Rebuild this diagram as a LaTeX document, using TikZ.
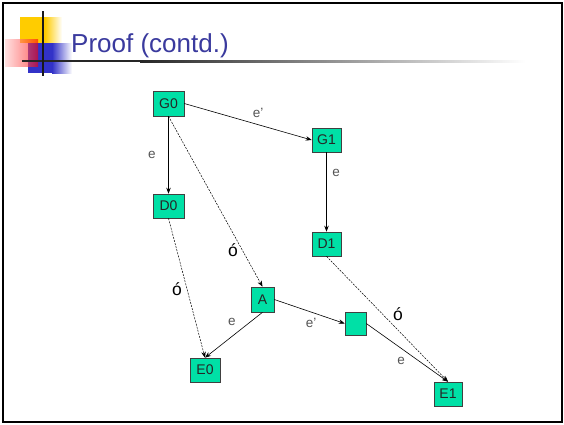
\documentclass[tikz,border=0pt]{standalone}
\usepackage{fontspec}
\setmainfont{Liberation Sans}
\usetikzlibrary{arrows.meta}
\definecolor{turq}{RGB}{0,224,166}
\definecolor{titleblue}{RGB}{58,58,158}
\definecolor{lblgray}{RGB}{85,85,85}
\definecolor{decoblue}{RGB}{50,50,200}
\definecolor{decoyellow}{RGB}{255,204,0}
\begin{document}
\begin{tikzpicture}[x=1pt,y=-1pt,
  box/.style={draw=black!75,line width=0.6pt,fill=turq,inner sep=0pt,
    font=\fontsize{14}{15}\selectfont,text=black!85},
  solidarr/.style={-{Stealth[length=6pt,width=4.5pt]},line width=0.6pt},
  dasharr/.style={-{Stealth[length=6pt,width=4.5pt]},line width=0.5pt,dash pattern=on 2pt off 1.2pt},
  elbl/.style={font=\fontsize{13.5}{14}\selectfont,text=lblgray},
  olbl/.style={font=\fontsize{17.5}{18}\selectfont,text=black}]
\useasboundingbox (0,0) rectangle (564,424);
\fill[white] (0,0) rectangle (564,424);
% slide frame
\draw[line width=2pt] (3,3) rectangle (562,422);

% title decoration squares
\shade[left color=decoyellow,right color=white] (45,17) rectangle (62,43);
\fill[decoyellow] (20,17) rectangle (45,43);
\shade[left color=decoblue,right color=white] (52,43) rectangle (72,73);
\fill[decoblue] (28,43) rectangle (52,73);
\shade[left color=red!20,right color=red,opacity=0.6] (5,39) rectangle (38,66);
% title rule and vertical bar
\shade[left color=black!85,right color=white] (140,60) rectangle (525,62);
\fill[black!85] (22,60) rectangle (140,62);
\fill[black!90] (42,11) rectangle (44,76);

% title
\node[anchor=base west,inner sep=0pt,text=titleblue,font=\fontsize{26}{28}\selectfont] (title) at (71,52) {Proof (contd.)};

% nodes
\node[box,minimum width=31pt,minimum height=25pt] (G0) at (168.5,103.5) {G0};
\node[box,minimum width=29pt,minimum height=24pt] (G1) at (326.5,140) {G1};
\node[box,minimum width=31pt,minimum height=24pt] (D0) at (168.5,206) {D0};
\node[box,minimum width=29pt,minimum height=24pt] (D1) at (326.5,244) {D1};
\node[box,minimum width=23pt,minimum height=25pt] (A) at (262.5,299.5) {A};
\node[box,minimum width=21pt,minimum height=23pt] (X) at (355.5,323.5) {};
\node[box,minimum width=30pt,minimum height=24pt] (E0) at (205,370) {E0};
\node[box,minimum width=28pt,minimum height=24pt] (E1) at (448,394) {E1};

% solid edges
\draw[solidarr] (G0.east) -- (G1.west);
\draw[solidarr] (G0.south) -- (D0.north);
\draw[solidarr] (G1.south) -- (D1.north);
\draw[solidarr] (A.south) -- (E0.north);
\draw[solidarr] (A.east) -- (X.west);
\draw[solidarr] (X.east) -- (E1.north);
% dashed edges
\draw[dasharr] (G0.south) -- (A.north);
\draw[dasharr] (D0.south) -- (E0.north);
\draw[dasharr] (D1.south) -- (E1.north);

% edge labels
\node[elbl] (l1) at (258,113) {e’};
\node[elbl] (l2) at (152,155) {e};
\node[elbl] (l3) at (336,173) {e};
\node[elbl] (l4) at (232,322) {e};
\node[elbl] (l5) at (311,323) {e’};
\node[elbl] (l6) at (401,361) {e};
\node[olbl] (o1) at (233,250) {ó};
\node[olbl] (o2) at (177,289) {ó};
\node[olbl] (o3) at (398,314) {ó};
\end{tikzpicture}
\end{document}
